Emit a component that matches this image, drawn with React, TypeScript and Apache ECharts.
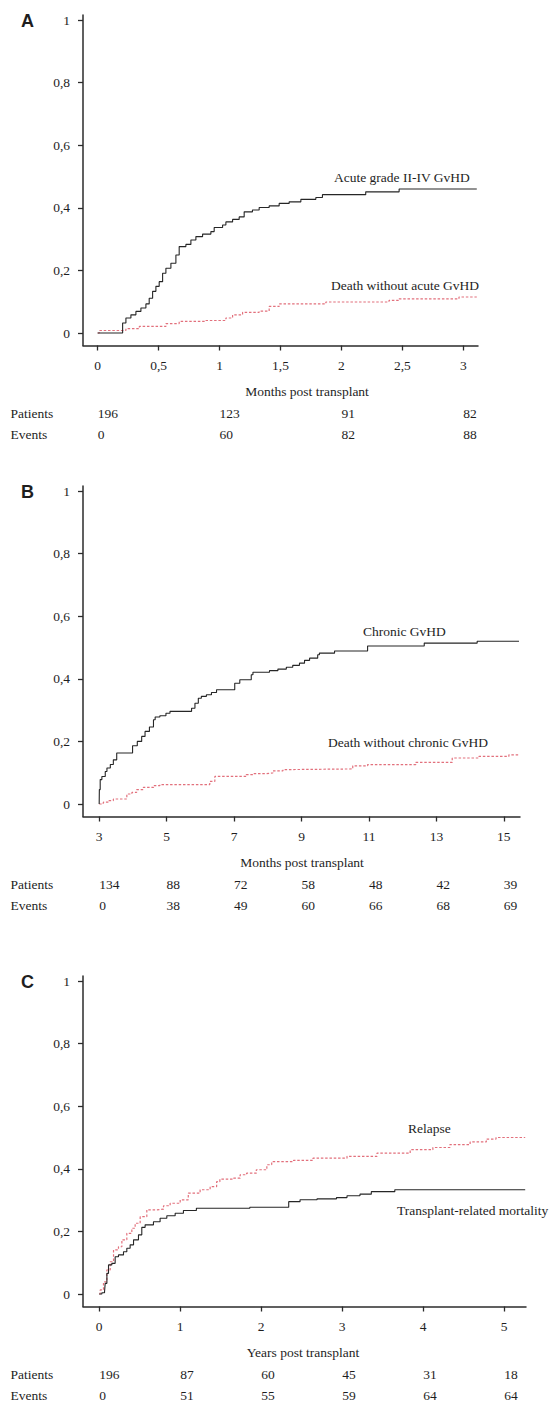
import React, { useEffect, useRef } from "react";
import * as echarts from "echarts";

// ---------- Panel A: acute GvHD (months) ----------
const acuteTicks = [0, 0.5, 1, 1.5, 2, 2.5, 3];
const acuteTableTimes = [0, 1, 2, 3];
const acutePatients = [196, 123, 91, 82];
const acuteEvents = [0, 60, 82, 88];
const acuteGvhd = [
  [0, 0], [0.205, 0.032], [0.232, 0.048], [0.273, 0.058], [0.314, 0.069], [0.355, 0.08],
  [0.396, 0.093], [0.423, 0.111], [0.451, 0.133], [0.478, 0.149], [0.505, 0.164], [0.533, 0.191],
  [0.56, 0.207], [0.601, 0.223], [0.642, 0.249], [0.669, 0.276], [0.724, 0.283], [0.765, 0.297],
  [0.806, 0.308], [0.861, 0.316], [0.929, 0.324], [0.956, 0.337], [1.025, 0.345], [1.052, 0.355],
  [1.107, 0.363], [1.161, 0.371], [1.202, 0.387], [1.27, 0.393], [1.325, 0.401], [1.407, 0.406],
  [1.489, 0.414], [1.571, 0.419], [1.667, 0.427], [1.79, 0.433], [1.844, 0.442], [2.199, 0.451],
  [2.473, 0.46], [3.11, 0.46],
];
const deathNoAcute = [
  [0, 0], [0.014, 0.008], [0.232, 0.014], [0.342, 0.021], [0.56, 0.03], [0.669, 0.037],
  [0.888, 0.04], [1.052, 0.048], [1.107, 0.058], [1.189, 0.066], [1.325, 0.07], [1.407, 0.085],
  [1.489, 0.093], [1.872, 0.099], [2.39, 0.104], [2.473, 0.109], [2.964, 0.115], [3.11, 0.115],
];

// ---------- Panel B: chronic GvHD (months) ----------
const chronicTicks = [3, 5, 7, 9, 11, 13, 15];
const chronicTableTimes = [3, 5, 7, 9, 11, 13, 15];
const chronicPatients = [134, 88, 72, 58, 48, 42, 39];
const chronicEvents = [0, 38, 49, 60, 66, 68, 69];
const chronicGvhd = [
  [3, 0], [3.005, 0.046], [3.03, 0.078], [3.08, 0.088], [3.18, 0.104], [3.23, 0.115], [3.33, 0.126],
  [3.42, 0.141], [3.52, 0.163], [3.99, 0.186], [4.13, 0.2], [4.26, 0.216], [4.36, 0.232],
  [4.49, 0.246], [4.61, 0.269], [4.66, 0.278], [4.8, 0.282], [4.98, 0.29], [5.1, 0.296],
  [5.74, 0.306], [5.84, 0.322], [5.94, 0.338], [6.03, 0.344], [6.18, 0.349], [6.33, 0.356],
  [6.48, 0.365], [7.02, 0.386], [7.17, 0.397], [7.51, 0.413], [7.56, 0.421], [8.05, 0.426],
  [8.3, 0.431], [8.55, 0.437], [8.74, 0.443], [8.94, 0.45], [9.09, 0.459], [9.24, 0.466],
  [9.48, 0.477], [9.53, 0.482], [9.98, 0.489], [10.96, 0.505], [12.64, 0.514], [14.21, 0.52],
  [15.45, 0.52],
];
const deathNoChronic = [
  [3, 0], [3.08, 0.003], [3.13, 0.006], [3.28, 0.011], [3.42, 0.016], [3.82, 0.032], [3.97, 0.037],
  [4.11, 0.046], [4.31, 0.053], [4.61, 0.059], [4.8, 0.062], [6.28, 0.072], [6.43, 0.088],
  [7.36, 0.094], [7.56, 0.097], [7.96, 0.099], [8.15, 0.106], [8.45, 0.11], [8.69, 0.112],
  [10.52, 0.122], [10.96, 0.126], [12.39, 0.133], [13.47, 0.147], [14.26, 0.152], [15.15, 0.157],
  [15.45, 0.157],
];

// ---------- Panel C: relapse / TRM (years) ----------
const yearTicks = [0, 1, 2, 3, 4, 5];
const yearTableTimes = [0, 1, 2, 3, 4, 5];
const yearPatients = [196, 87, 60, 45, 31, 18];
const yearEvents = [0, 51, 55, 59, 64, 64];
const relapse = [
  [0, 0], [0.012, 0.013], [0.053, 0.039], [0.095, 0.077], [0.136, 0.103], [0.177, 0.141],
  [0.238, 0.151], [0.28, 0.173], [0.341, 0.194], [0.403, 0.21], [0.444, 0.226], [0.506, 0.247],
  [0.588, 0.269], [0.711, 0.271], [0.794, 0.282], [0.876, 0.29], [1.0, 0.301], [1.1, 0.322],
  [1.246, 0.333], [1.37, 0.343], [1.45, 0.359], [1.49, 0.367], [1.66, 0.37], [1.74, 0.381],
  [1.82, 0.386], [1.94, 0.397], [2.07, 0.413], [2.13, 0.423], [2.4, 0.427], [2.64, 0.434],
  [3.06, 0.44], [3.43, 0.45], [3.84, 0.461], [4.12, 0.468], [4.33, 0.477], [4.58, 0.486],
  [4.78, 0.495], [4.9, 0.5], [5.26, 0.5],
];
const trm = [
  [0, 0], [0.033, 0.004], [0.066, 0.007], [0.074, 0.034], [0.095, 0.066], [0.115, 0.093],
  [0.156, 0.098], [0.197, 0.119], [0.238, 0.125], [0.3, 0.135], [0.341, 0.146], [0.382, 0.157],
  [0.424, 0.173], [0.485, 0.189], [0.526, 0.213], [0.567, 0.221], [0.67, 0.231], [0.752, 0.242],
  [0.835, 0.25], [0.938, 0.258], [1.04, 0.267], [1.2, 0.274], [1.86, 0.277], [2.34, 0.295],
  [2.48, 0.301], [2.69, 0.304], [2.93, 0.308], [3.06, 0.314], [3.22, 0.319], [3.36, 0.327],
  [3.65, 0.333], [5.26, 0.333],
];

const yTicks = [0, 0.2, 0.4, 0.6, 0.8, 1];

const SERIF = '"Liberation Serif", "DejaVu Serif", serif';
const SANS = '"Liberation Sans", Arial, sans-serif';
const INK = "#1e1e1e";
const AXIS = "#2b2b2b";
const RED = "#e2707c";
const FS = 13.5;

const fmt = (v: number) => {
  const r = Math.round(v * 10) / 10;
  return String(r).replace(".", ",");
};

type PanelCfg = {
  letter: string;
  top: number; // pixel y of value 1
  right: number; // grid right offset
  xMin: number;
  xMax: number;
  ticks: number[];
  tableTimes: number[];
  patients: number[];
  events: number[];
  title: string;
  titleX: number;
  black: number[][];
  red: number[][];
  blackName: string;
  redName: string;
  blackLabel: { text: string; x: number; y: number };
  redLabel: { text: string; x: number; y: number };
};

const UNIT = 313; // pixels per 1.0 on the y axis
const Y_MIN = -0.04;
const Y_MAX = 1.016;

function buildPanel(cfg: PanelCfg, i: number) {
  const gridTop = cfg.top - (Y_MAX - 1) * UNIT;
  const gridHeight = (Y_MAX - Y_MIN) * UNIT;
  const axisY = gridTop + gridHeight;
  const grid = { left: 83, right: cfg.right, top: gridTop, height: gridHeight };

  const mainX = {
    type: "value",
    gridIndex: i,
    min: cfg.xMin,
    max: cfg.xMax,
    position: "bottom",
    splitLine: { show: false },
    axisLine: { show: true, onZero: false, lineStyle: { color: AXIS, width: 1.5 } },
    axisTick: { show: true, inside: false, length: 5, customValues: cfg.ticks, lineStyle: { color: AXIS, width: 1.3 } },
    axisLabel: {
      customValues: cfg.ticks,
      formatter: (v: number) => fmt(v),
      margin: 13.5,
      fontFamily: SERIF,
      fontSize: FS,
      lineHeight: FS,
      color: INK,
    },
  };
  const tableAxis = (values: number[], offset: number) => ({
    type: "value",
    gridIndex: i,
    min: cfg.xMin,
    max: cfg.xMax,
    position: "bottom",
    offset,
    splitLine: { show: false },
    axisLine: { show: false },
    axisTick: { show: false },
    axisLabel: {
      customValues: cfg.tableTimes,
      formatter: (v: number) => {
        const k = cfg.tableTimes.indexOf(v);
        return k >= 0 ? String(values[k]) : "";
      },
      align: "left",
      margin: 0,
      fontFamily: SERIF,
      fontSize: FS,
      lineHeight: FS,
      color: INK,
    },
  });
  const yAxis = {
    type: "value",
    gridIndex: i,
    min: Y_MIN,
    max: Y_MAX,
    splitLine: { show: false },
    axisLine: { show: true, onZero: false, lineStyle: { color: AXIS, width: 1.5 } },
    axisTick: { show: true, inside: false, length: 5, customValues: yTicks, lineStyle: { color: AXIS, width: 1.3 } },
    axisLabel: {
      customValues: yTicks,
      formatter: (v: number) => fmt(v),
      margin: 13,
      fontFamily: SERIF,
      fontSize: FS,
      color: INK,
    },
  };
  const series = [
    {
      type: "line",
      name: cfg.blackName,
      xAxisIndex: i * 3,
      yAxisIndex: i,
      step: "end",
      showSymbol: false,
      symbol: "none",
      data: cfg.black,
      lineStyle: { color: "#262626", width: 1.1 },
      z: 3,
    },
    {
      type: "line",
      name: cfg.redName,
      xAxisIndex: i * 3,
      yAxisIndex: i,
      step: "end",
      showSymbol: false,
      symbol: "none",
      data: cfg.red,
      lineStyle: { color: RED, width: 1.2, type: [2.5, 1.8] },
      z: 2,
    },
  ];
  const txt = (text: string, x: number, y: number, font: string, align = "left") => ({
    type: "text",
    x,
    y,
    silent: true,
    style: { text, font, fill: INK, textAlign: align, textVerticalAlign: "middle" },
  });
  const f = `${FS}px ${SERIF}`;
  const graphic = [
    txt(cfg.letter, 21, cfg.top + 1, `bold 18px ${SANS}`),
    txt(cfg.title, cfg.titleX, axisY + 45.5, f, "center"),
    txt("Patients", 10.5, axisY + 67.5, f),
    txt("Events", 10.5, axisY + 88.5, f),
    txt(cfg.blackLabel.text, cfg.blackLabel.x, cfg.blackLabel.y, f),
    txt(cfg.redLabel.text, cfg.redLabel.x, cfg.redLabel.y, f),
  ];
  return {
    grid,
    xAxes: [mainX, tableAxis(cfg.patients, 60.75), tableAxis(cfg.events, 81.75)],
    yAxis,
    series,
    graphic,
  };
}

const panels: PanelCfg[] = [
  {
    letter: "A",
    top: 20,
    right: 74,
    xMin: -0.12,
    xMax: 3.12,
    ticks: acuteTicks,
    tableTimes: acuteTableTimes,
    patients: acutePatients,
    events: acuteEvents,
    title: "Months post transplant",
    titleX: 307,
    black: acuteGvhd,
    red: deathNoAcute,
    blackName: "Acute grade II-IV GvHD",
    redName: "Death without acute GvHD",
    blackLabel: { text: "Acute grade II-IV GvHD", x: 334, y: 177 },
    redLabel: { text: "Death without acute GvHD", x: 331, y: 285 },
  },
  {
    letter: "B",
    top: 491,
    right: 32,
    xMin: 2.52,
    xMax: 15.48,
    ticks: chronicTicks,
    tableTimes: chronicTableTimes,
    patients: chronicPatients,
    events: chronicEvents,
    title: "Months post transplant",
    titleX: 302,
    black: chronicGvhd,
    red: deathNoChronic,
    blackName: "Chronic GvHD",
    redName: "Death without chronic GvHD",
    blackLabel: { text: "Chronic GvHD", x: 363, y: 631 },
    redLabel: { text: "Death without chronic GvHD", x: 328, y: 742 },
  },
  {
    letter: "C",
    top: 981,
    right: 26,
    xMin: -0.2,
    xMax: 5.27,
    ticks: yearTicks,
    tableTimes: yearTableTimes,
    patients: yearPatients,
    events: yearEvents,
    title: "Years post transplant",
    titleX: 303,
    black: trm,
    red: relapse,
    blackName: "Transplant-related mortality",
    redName: "Relapse",
    blackLabel: { text: "Transplant-related mortality", x: 397, y: 1210 },
    redLabel: { text: "Relapse", x: 408, y: 1128 },
  },
];

export default function App() {
  const ref = useRef<HTMLDivElement>(null);
  useEffect(() => {
    if (!ref.current) return;
    const chart = echarts.init(ref.current, undefined, { renderer: "svg" });
    const built = panels.map((p, i) => buildPanel(p, i));
    chart.setOption({
      animation: false,
      backgroundColor: "#ffffff",
      textStyle: { fontFamily: SERIF },
      grid: built.map((b) => b.grid),
      xAxis: built.flatMap((b) => b.xAxes),
      yAxis: built.map((b) => b.yAxis),
      series: built.flatMap((b) => b.series),
      graphic: built.flatMap((b) => b.graphic),
    } as any);
    return () => chart.dispose();
  }, []);
  return (
    <div
      ref={ref}
      style={{ position: "absolute", left: 0, top: 0, width: 552, height: 1403, background: "#fff" }}
    />
  );
}
